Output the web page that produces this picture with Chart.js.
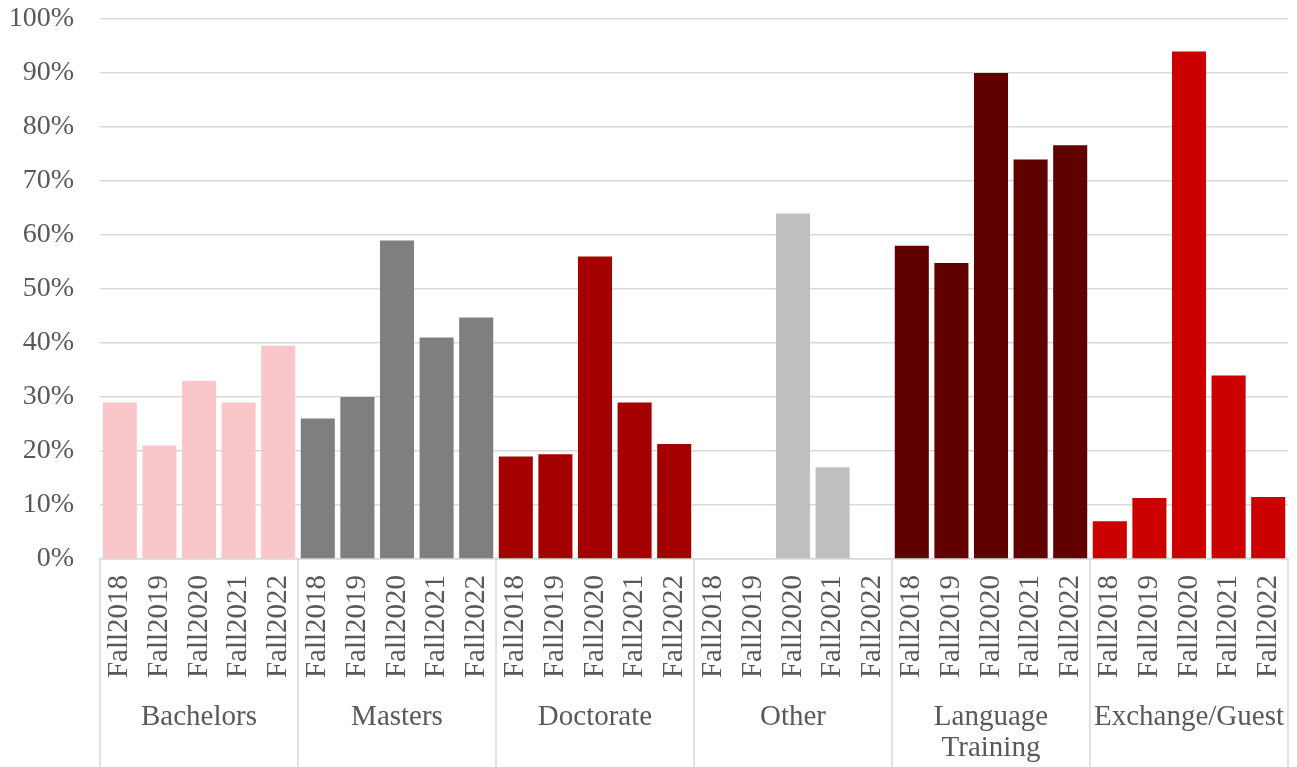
<!DOCTYPE html>
<html>
<head>
<meta charset="utf-8">
<script src="https://cdn.jsdelivr.net/npm/chart.js@4.4.1/dist/chart.umd.min.js"></script>
<style>
  html, body { margin: 0; padding: 0; background: #fff; }
  #wrap { width: 1297px; height: 767px; position: relative; }
</style>
</head>
<body>
<div id="wrap"><canvas id="chart"></canvas></div>
<script>
// data (percent)
const groups = ['Bachelors', 'Masters', 'Doctorate', 'Other', ['Language', 'Training'], 'Exchange/Guest'];
const years = ['Fall2018', 'Fall2019', 'Fall2020', 'Fall2021', 'Fall2022'];
const bachelors = [29, 21, 33, 29, 39.5];
const masters = [26, 30, 59, 41, 44.7];
const doctorate = [19, 19.4, 56, 29, 21.3];
const other = [0, 0, 64, 17, 0];
const languageTraining = [58, 54.8, 90, 74, 76.6];
const exchangeGuest = [7, 11.3, 94, 34, 11.5];
const yTicks = [0, 10, 20, 30, 40, 50, 60, 70, 80, 90, 100];

const groupValues = [bachelors, masters, doctorate, other, languageTraining, exchangeGuest];
const groupColors = ['#f9c6c9', '#7f7f7f', '#a50000', '#bfbfbf', '#600000', '#cc0000'];

const labels = groupValues.flatMap(() => years);
const values = groupValues.flat();
const colors = groupValues.flatMap((g, i) => g.map(() => groupColors[i]));

const font = 'Liberation Serif, Times New Roman, serif';
const textColor = '#595959';
const lineColor = '#d9d9d9';

// vertical separators between groups, below the plot
const groupLines = {
    id: 'groupLines',
    afterDraw(chart) {
        const x = chart.scales.x;
        const ctx = chart.ctx;
        const top = chart.chartArea.bottom;
        ctx.save();
        ctx.strokeStyle = lineColor;
        ctx.lineWidth = 1.5;
        for (let g = 0; g <= groups.length; g++) {
            const px = Math.round(x.getPixelForValue(g * years.length - 0.5));
            ctx.beginPath();
            ctx.moveTo(px, top);
            ctx.lineTo(px, chart.height);
            ctx.stroke();
        }
        ctx.restore();
    }
};

new Chart(document.getElementById('chart'), {
    type: 'bar',
    data: {
        labels: labels,
        datasets: [{
            data: values,
            backgroundColor: colors,
            borderWidth: 0,
            barPercentage: 0.86,
            categoryPercentage: 1
        }]
    },
    options: {
        responsive: true,
        maintainAspectRatio: false,
        animation: false,
        layout: { padding: { top: 0, left: 0, right: 9, bottom: 0 } },
        plugins: {
            legend: { display: false },
            tooltip: { enabled: false }
        },
        scales: {
            y: {
                min: 0,
                max: 100,
                afterBuildTicks: (axis) => { axis.ticks = yTicks.map(v => ({ value: v })); },
                afterFit: (axis) => {
                    axis.width = 100;
                    axis.paddingTop = 19;
                    axis.paddingBottom = 0;
                },
                ticks: {
                    callback: v => v + '%',
                    font: { family: font, size: 28 },
                    color: textColor,
                    padding: 26
                },
                grid: { color: lineColor, lineWidth: 1.5, drawTicks: false },
                border: { display: false }
            },
            x: {
                offset: true,
                afterFit: (axis) => {
                    axis.height = 119;
                    axis.paddingLeft = 0;
                    axis.paddingRight = 0;
                },
                ticks: {
                    autoSkip: false,
                    minRotation: 90,
                    maxRotation: 90,
                    font: { family: font, size: 29 },
                    color: textColor,
                    padding: 16
                },
                grid: { display: false, drawTicks: false },
                border: { display: true, color: lineColor, width: 1.5 }
            },
            x2: {
                type: 'category',
                position: 'bottom',
                labels: groups,
                offset: true,
                afterFit: (axis) => {
                    axis.height = 89;
                    axis.paddingLeft = 0;
                    axis.paddingRight = 0;
                },
                ticks: {
                    autoSkip: false,
                    maxRotation: 0,
                    font: { family: font, size: 29, lineHeight: 1.07 },
                    color: textColor,
                    padding: 24
                },
                grid: { display: false, drawTicks: false },
                border: { display: false }
            }
        }
    },
    plugins: [groupLines]
});
</script>
</body>
</html>
